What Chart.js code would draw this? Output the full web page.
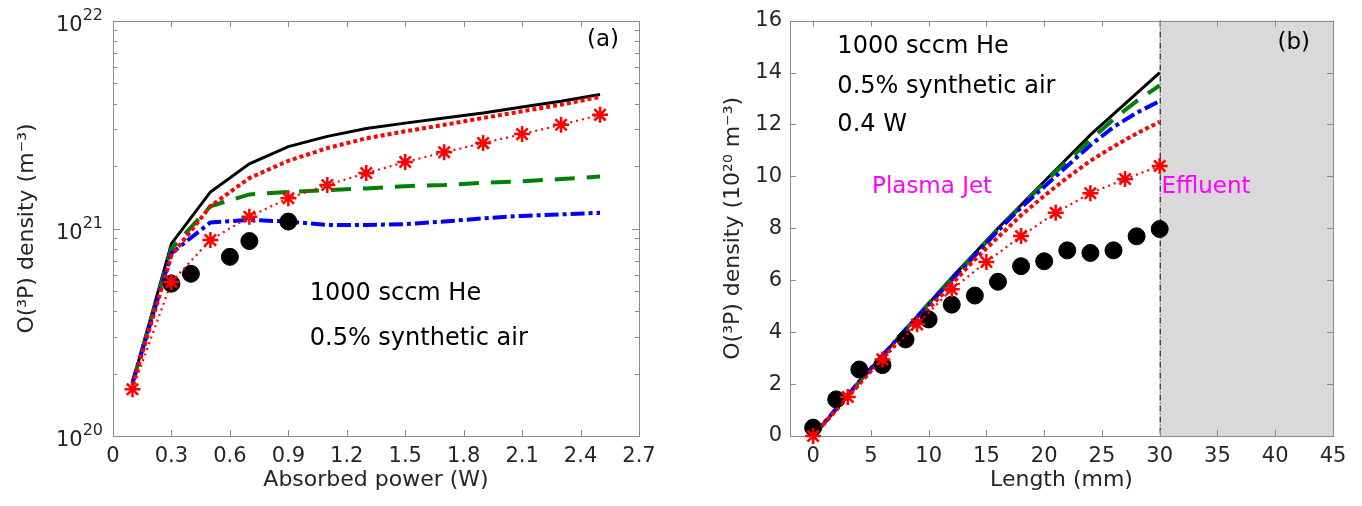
<!DOCTYPE html>
<html>
<head>
<meta charset="utf-8">
<script src="https://cdn.jsdelivr.net/npm/chart.js@4.4.1/dist/chart.umd.min.js"></script>
<style>
  html, body { margin: 0; padding: 0; background: #fff; }
  #wrap { position: relative; width: 1362px; height: 506px; }
  #powerChart { position: absolute; left: 0; top: 0; }
  #lengthChart { position: absolute; left: 700px; top: 0; }
</style>
</head>
<body>
<div id="wrap">
  <canvas id="powerChart" width="700" height="506"></canvas>
  <canvas id="lengthChart" width="662" height="506"></canvas>
</div>
<script>
// ---- (a) O(3P) density against absorbed power ----
const powerModel = [0.1, 0.3, 0.5, 0.7, 0.9, 1.1, 1.3, 1.5, 1.7, 1.9, 2.1, 2.3, 2.5];
const densityBlackA = [1.8e20, 8.45e20, 1.50e21, 2.05e21, 2.48e21, 2.78e21, 3.03e21, 3.22e21, 3.41e21, 3.60e21, 3.85e21, 4.10e21, 4.42e21];
const densityGreenA = [1.8e20, 8.0e20, 1.28e21, 1.46e21, 1.50e21, 1.53e21, 1.56e21, 1.60e21, 1.62e21, 1.66e21, 1.69e21, 1.73e21, 1.78e21];
const densityBlueA = [1.8e20, 7.6e20, 1.07e21, 1.10e21, 1.08e21, 1.04e21, 1.04e21, 1.05e21, 1.08e21, 1.12e21, 1.15e21, 1.17e21, 1.19e21];
const densityRedA = [1.75e20, 7.4e20, 1.28e21, 1.75e21, 2.12e21, 2.44e21, 2.72e21, 2.94e21, 3.16e21, 3.41e21, 3.67e21, 3.95e21, 4.31e21];
const densityStarA = [1.68e20, 5.52e20, 8.79e20, 1.14e21, 1.40e21, 1.62e21, 1.85e21, 2.09e21, 2.33e21, 2.58e21, 2.85e21, 3.16e21, 3.53e21];
const powerExp = [0.3, 0.4, 0.6, 0.7, 0.9];
const densityExpA = [5.42e20, 6.05e20, 7.3e20, 8.7e20, 1.08e21];

const powerTicks = [0, 0.3, 0.6, 0.9, 1.2, 1.5, 1.8, 2.1, 2.4, 2.7];
const powerTickLabels = ['0', '0.3', '0.6', '0.9', '1.2', '1.5', '1.8', '2.1', '2.4', '2.7'];
const densityMajorA = [1e20, 1e21, 1e22];
const densityMajorExp = ['20', '21', '22'];

// ---- (b) O(3P) density along the jet ----
const lengthModel = [0, 2, 4, 6, 8, 10, 12, 14, 16, 18, 20, 22, 24, 26, 28, 30];
const densityBlackB = [0, 1.05, 2.1, 3.1, 4.1, 5.1, 6.1, 7.05, 8.0, 8.9, 9.8, 10.7, 11.6, 12.4, 13.2, 14.0];
const densityGreenB = [0, 1.05, 2.1, 3.1, 4.1, 5.1, 6.05, 7.0, 7.95, 8.85, 9.75, 10.6, 11.4, 12.2, 12.9, 13.5];
const densityBlueB = [0, 1.05, 2.1, 3.1, 4.1, 5.05, 6.0, 6.95, 7.9, 8.8, 9.6, 10.4, 11.2, 11.9, 12.45, 12.9];
const densityRedB = [0, 1.0, 2.0, 3.0, 3.95, 4.9, 5.85, 6.8, 7.65, 8.5, 9.25, 9.95, 10.6, 11.15, 11.65, 12.1];
const lengthStar = [0, 3, 6, 9, 12, 15, 18, 21, 24, 27, 30];
const densityStarB = [0, 1.5, 2.95, 4.3, 5.65, 6.7, 7.7, 8.6, 9.35, 9.9, 10.4];
const lengthExp = [0, 2, 4, 6, 8, 10, 12, 14, 16, 18, 20, 22, 24, 26, 28, 30];
const densityExpB = [0.32, 1.41, 2.56, 2.73, 3.72, 4.49, 5.06, 5.41, 5.94, 6.54, 6.73, 7.15, 7.05, 7.15, 7.69, 7.97];

const lengthTicks = [0, 5, 10, 15, 20, 25, 30, 35, 40, 45];
const densityTicksB = [0, 2, 4, 6, 8, 10, 12, 14, 16];
const effluentStart = 30;

const FONT = 'DejaVu Sans';
const TEXT = '#262626';

function pts(xs, ys) {
    return xs.map((x, i) => ({ x: x, y: ys[i] }));
}

// log axis ticks: 1..9 x 10^n between the decades
function logTicks(majors) {
    const out = [];
    for (let i = 0; i < majors.length - 1; i++) {
        for (let m = 1; m < 10; m++) out.push(m * majors[i]);
    }
    out.push(majors[majors.length - 1]);
    return out;
}

function curveSets(black, green, blue, red, xs) {
    return [
        { data: pts(xs, black), borderColor: '#000', borderWidth: 3, order: 6 },
        { data: pts(xs, green), borderColor: '#008000', borderWidth: 4, borderDash: [20, 12], order: 5 },
        { data: pts(xs, blue), borderColor: '#0000ff', borderWidth: 4, borderDash: [14, 4, 4, 4], order: 4 },
        { data: pts(xs, red), borderColor: '#ff0000', borderWidth: 4, borderDash: [4, 3], order: 3 }
    ].map(d => Object.assign({ showLine: true, pointRadius: 0, tension: 0, clip: false }, d));
}

function markerSets(xsExp, ysExp, xsStar, ysStar) {
    return [
        {
            data: pts(xsExp, ysExp), showLine: false, pointStyle: 'circle', pointRadius: 8.5,
            pointBackgroundColor: '#000', pointBorderColor: '#000', pointBorderWidth: 1, order: 2, clip: false
        },
        {
            data: pts(xsStar, ysStar), showLine: true, borderColor: '#ff0000', borderWidth: 2.2,
            borderDash: [2, 4], pointStyle: 'star', pointRadius: 8, pointBorderColor: '#ff0000',
            pointBackgroundColor: '#ff0000', pointBorderWidth: 2.5, order: 1, clip: false
        }
    ];
}

// box, inward ticks, shaded effluent region and text notes
const axesBox = {
    id: 'axesBox',
    beforeDatasetsDraw(chart, args, opts) {
        const { ctx, chartArea: a, scales: { x, y } } = chart;
        ctx.save();
        if (opts.shadeFrom != null) {
            const x0 = x.getPixelForValue(opts.shadeFrom);
            ctx.fillStyle = '#d9d9d9';
            ctx.fillRect(x0, a.top, a.right - x0, a.bottom - a.top);
            ctx.strokeStyle = '#000';
            ctx.lineWidth = 1;
            ctx.setLineDash([6, 2, 1, 2]);
            ctx.beginPath();
            ctx.moveTo(x0 + 0.5, a.top);
            ctx.lineTo(x0 + 0.5, a.bottom);
            ctx.stroke();
            ctx.setLineDash([]);
        }
        ctx.strokeStyle = '#8a8a8a';
        ctx.lineWidth = 1;
        ctx.beginPath();
        x.ticks.forEach(t => {
            const px = Math.round(x.getPixelForValue(t.value)) + 0.5;
            ctx.moveTo(px, a.bottom); ctx.lineTo(px, a.bottom - 6);
            ctx.moveTo(px, a.top); ctx.lineTo(px, a.top + 6);
        });
        y.ticks.forEach(t => {
            const py = Math.round(y.getPixelForValue(t.value)) + 0.5;
            let len = 6;
            if (y.type === 'logarithmic') {
                const e = Math.log10(t.value);
                len = Math.abs(e - Math.round(e)) < 1e-9 ? 7 : 4;
            }
            ctx.moveTo(a.left, py); ctx.lineTo(a.left + len, py);
            ctx.moveTo(a.right, py); ctx.lineTo(a.right - len, py);
        });
        ctx.stroke();
        ctx.strokeRect(Math.round(a.left) + 0.5, Math.round(a.top) + 0.5,
            Math.round(a.right - a.left), Math.round(a.bottom - a.top));
        ctx.restore();
    },
    afterDatasetsDraw(chart, args, opts) {
        const { ctx, chartArea: a, scales: { x, y } } = chart;
        ctx.save();
        (opts.notes || []).forEach(n => {
            ctx.font = (n.size || 24) + 'px "' + FONT + '"';
            ctx.fillStyle = n.color || '#000';
            ctx.textAlign = n.align || 'left';
            ctx.textBaseline = 'middle';
            ctx.fillText(n.text, x.getPixelForValue(n.x), y.getPixelForValue(n.y));
        });
        // power-of-ten labels with raised exponents
        (opts.expLabels || []).forEach(l => {
            const py = y.getPixelForValue(l.value);
            const right = a.left - 10;
            ctx.fillStyle = TEXT;
            ctx.textBaseline = 'middle';
            ctx.font = '16px "' + FONT + '"';
            const ew = ctx.measureText(l.exp).width;
            ctx.textAlign = 'left';
            ctx.fillText(l.exp, right - ew, py - 5);
            ctx.font = '21px "' + FONT + '"';
            ctx.textAlign = 'right';
            ctx.fillText(l.base, right - ew, py + 5);
        });
        ctx.restore();
    }
};

const tickFont = { family: FONT, size: 21 };
const titleFont = { family: FONT, size: 22 };

function xScale(min, max, ticks, labels, title) {
    return {
        type: 'linear', min: min, max: max,
        afterBuildTicks: s => { s.ticks = ticks.map(v => ({ value: v })); },
        afterFit: s => { s.height = 70; },
        grid: { display: false, drawTicks: false },
        border: { display: false },
        ticks: {
            font: tickFont, color: TEXT, padding: 8, autoSkip: false, maxRotation: 0, minRotation: 0,
            callback: (v, i) => labels[i]
        },
        title: { display: true, text: title, font: titleFont, color: TEXT, padding: { top: 0, bottom: 13 } }
    };
}

const common = {
    responsive: false,
    animation: false,
    events: [],
    plugins: { legend: { display: false }, tooltip: { enabled: false } }
};

new Chart(document.getElementById('powerChart'), {
    type: 'scatter',
    data: {
        datasets: curveSets(densityBlackA, densityGreenA, densityBlueA, densityRedA, powerModel)
            .concat(markerSets(powerExp, densityExpA, powerModel, densityStarA))
    },
    options: Object.assign({}, common, {
        layout: { padding: { top: 21, right: 61, left: 0, bottom: 0 } },
        scales: {
            x: xScale(0, 2.7, powerTicks, powerTickLabels, 'Absorbed power (W)'),
            y: {
                type: 'logarithmic', min: 1e20, max: 1e22,
                afterBuildTicks: s => { s.ticks = logTicks(densityMajorA).map(v => ({ value: v })); },
                afterFit: s => { s.width = 113; },
                grid: { display: false, drawTicks: false },
                border: { display: false },
                ticks: { display: false },
                title: { display: true, text: 'O(³P) density (m⁻³)', font: titleFont, color: TEXT, padding: { top: 14, bottom: 0 } }
            }
        },
        plugins: Object.assign({}, common.plugins, {
            axesBox: {
                expLabels: densityMajorA.map((v, i) => ({ value: v, base: '10', exp: densityMajorExp[i] })),
                notes: [
                    { text: '(a)', x: 2.515, y: 8.1e21, align: 'center', size: 23 },
                    { text: '1000 sccm He', x: 1.01, y: 4.86e20 },
                    { text: '0.5% synthetic air', x: 1.01, y: 2.93e20 }
                ]
            }
        })
    }),
    plugins: [axesBox]
});

new Chart(document.getElementById('lengthChart'), {
    type: 'scatter',
    data: {
        datasets: curveSets(densityBlackB, densityGreenB, densityBlueB, densityRedB, lengthModel)
            .concat(markerSets(lengthExp, densityExpB, lengthStar, densityStarB))
    },
    options: Object.assign({}, common, {
        layout: { padding: { top: 20, right: 29, left: 0, bottom: 0 } },
        scales: {
            x: xScale(-2, 45, lengthTicks, lengthTicks.map(String), 'Length (mm)'),
            y: {
                type: 'linear', min: 0, max: 16,
                afterBuildTicks: s => { s.ticks = densityTicksB.map(v => ({ value: v })); },
                afterFit: s => { s.width = 90; },
                grid: { display: false, drawTicks: false },
                border: { display: false },
                ticks: { font: tickFont, color: TEXT, padding: 8, callback: v => String(v) },
                title: { display: true, text: 'O(³P) density (10²⁰ m⁻³)', font: titleFont, color: TEXT, padding: { top: 20, bottom: 0 } }
            }
        },
        plugins: Object.assign({}, common.plugins, {
            axesBox: {
                shadeFrom: effluentStart,
                notes: [
                    { text: '1000 sccm He', x: 2.1, y: 14.98 },
                    { text: '0.5% synthetic air', x: 2.1, y: 13.44 },
                    { text: '0.4 W', x: 2.1, y: 11.98 },
                    { text: 'Plasma Jet', x: 5.1, y: 9.6, color: '#ff00ff', size: 23 },
                    { text: 'Effluent', x: 30.15, y: 9.6, color: '#ff00ff', size: 23 },
                    { text: '(b)', x: 41.6, y: 15.14, align: 'center', size: 23 }
                ]
            }
        })
    }),
    plugins: [axesBox]
});
</script>
</body>
</html>
